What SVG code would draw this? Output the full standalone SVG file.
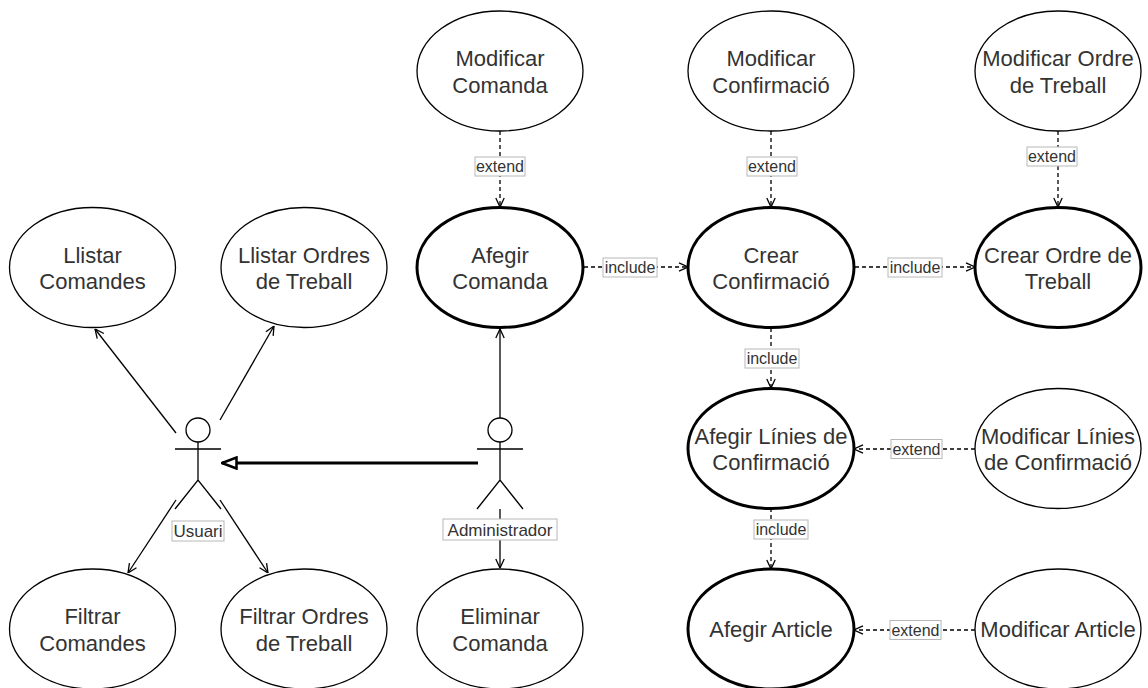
<svg xmlns="http://www.w3.org/2000/svg" width="1148" height="688" viewBox="0 0 1148 688">
<style>
.uc{fill:#fff;stroke:#000;stroke-width:1.3}
.ucb{fill:#fff;stroke:#000;stroke-width:3}
.t{font-family:"Liberation Sans",Arial,sans-serif;font-size:22px;fill:#333;text-anchor:middle}
.lt{font-family:"Liberation Sans",Arial,sans-serif;font-size:16px;fill:#333;text-anchor:middle}
.at{font-family:"Liberation Sans",Arial,sans-serif;font-size:17px;fill:#333;text-anchor:middle}
.lb{fill:#fff;stroke:#b8b8b8;stroke-width:1}
.assoc{fill:none;stroke:#000;stroke-width:1.3;marker-end:url(#open)}
.dep{fill:none;stroke:#000;stroke-width:1.3;stroke-dasharray:4 3;marker-end:url(#open)}
.gen{fill:none;stroke:#000;stroke-width:3;marker-end:url(#tri)}
.actor{fill:none;stroke:#000;stroke-width:1.3}
</style>
<defs>
<marker id="open" viewBox="0 0 10 10" refX="10" refY="5" markerWidth="10" markerHeight="10" markerUnits="userSpaceOnUse" orient="auto">
<path d="M1,0.8 L10,5 L1,9.2" fill="none" stroke="#000" stroke-width="1.3" stroke-dasharray="none"/>
</marker>
<marker id="tri" viewBox="0 0 18 14" refX="16.5" refY="7" markerWidth="18" markerHeight="14" markerUnits="userSpaceOnUse" orient="auto">
<path d="M2,1.5 L16.5,7 L2,12.5 Z" fill="#fff" stroke="#000" stroke-width="2.5"/>
</marker>
</defs>
<rect width="1148" height="688" fill="#fff"/>

<g id="connectors">
<path class="assoc" d="M176,433 L95,329"/>
<path class="assoc" d="M220,420 L274,326"/>
<path class="assoc" d="M176,500 L128,573"/>
<path class="assoc" d="M220,500 L268,573"/>
<path class="assoc" d="M500,418 L500,329"/>
<path class="assoc" d="M500,509 L500,568"/>
<path class="gen" d="M478,463 L222,463"/>
<path class="dep" d="M500,131 L500,207"/>
<path class="dep" d="M771,131 L771,207"/>
<path class="dep" d="M1058,131 L1058,207"/>
<path class="dep" d="M584,267 L688,267"/>
<path class="dep" d="M855,267 L975,267"/>
<path class="dep" d="M771,328 L771,388"/>
<path class="dep" d="M975,449 L854,449"/>
<path class="dep" d="M771,508 L771,569"/>
<path class="dep" d="M975,630 L854,630"/>
<g id="edge-labels">
<rect class="lb" x="475" y="157" width="50" height="19"/><text class="lt" x="500" y="172">extend</text>
<rect class="lb" x="747" y="157" width="50" height="19"/><text class="lt" x="772" y="172">extend</text>
<rect class="lb" x="1027" y="147" width="50" height="19"/><text class="lt" x="1052" y="162">extend</text>
<rect class="lb" x="603" y="258" width="54" height="19"/><text class="lt" x="630" y="273">include</text>
<rect class="lb" x="888" y="258" width="54" height="19"/><text class="lt" x="915" y="273">include</text>
<rect class="lb" x="745" y="349" width="54" height="19"/><text class="lt" x="772" y="364">include</text>
<rect class="lb" x="891" y="439.5" width="51" height="19"/><text class="lt" x="916.5" y="454.5">extend</text>
<rect class="lb" x="754" y="520" width="54" height="19"/><text class="lt" x="781" y="535">include</text>
<rect class="lb" x="890" y="620.5" width="51" height="19"/><text class="lt" x="915.5" y="635.5">extend</text>
</g>
</g>

<g id="actor-usuari">
<circle class="actor" cx="198" cy="430" r="12"/>
<path class="actor" d="M198,442 L198,480 M175,449 L221,449 M175,509 L198,480 L221,509"/>
<rect class="lb" x="172" y="521" width="52" height="20"/>
<text class="at" x="198" y="537">Usuari</text>
</g>
<g id="actor-administrador">
<circle class="actor" cx="500" cy="430" r="12"/>
<path class="actor" d="M500,442 L500,480 M477,449 L523,449 M477,509 L500,480 L523,509"/>
<rect class="lb" x="443" y="519" width="114" height="21"/>
<text class="at" x="500" y="535.5">Administrador</text>
</g>

<g id="uc-modificar-comanda"><ellipse class="uc" cx="500" cy="71" rx="83" ry="60"/><text class="t" x="500" y="66">Modificar</text><text class="t" x="500" y="92.5">Comanda</text></g>
<g id="uc-modificar-confirmacio"><ellipse class="uc" cx="771" cy="71" rx="83" ry="60"/><text class="t" x="771" y="66">Modificar</text><text class="t" x="771" y="92.5">Confirmació</text></g>
<g id="uc-modificar-ordre"><ellipse class="uc" cx="1058" cy="71" rx="83" ry="60"/><text class="t" x="1058" y="66">Modificar Ordre</text><text class="t" x="1058" y="92.5">de Treball</text></g>

<g id="uc-llistar-comandes"><ellipse class="uc" cx="92.5" cy="267.5" rx="83" ry="60"/><text class="t" x="92.5" y="262.5">Llistar</text><text class="t" x="92.5" y="289">Comandes</text></g>
<g id="uc-llistar-ordres"><ellipse class="uc" cx="304" cy="267.5" rx="83" ry="60"/><text class="t" x="304" y="262.5">Llistar Ordres</text><text class="t" x="304" y="289">de Treball</text></g>
<g id="uc-afegir-comanda"><ellipse class="ucb" cx="500" cy="267.5" rx="83" ry="60"/><text class="t" x="500" y="262.5">Afegir</text><text class="t" x="500" y="289">Comanda</text></g>
<g id="uc-crear-confirmacio"><ellipse class="ucb" cx="771" cy="267.5" rx="83" ry="60"/><text class="t" x="771" y="262.5">Crear</text><text class="t" x="771" y="289">Confirmació</text></g>
<g id="uc-crear-ordre"><ellipse class="ucb" cx="1058" cy="267.5" rx="83" ry="60"/><text class="t" x="1058" y="262.5">Crear Ordre de</text><text class="t" x="1058" y="289">Treball</text></g>

<g id="uc-afegir-linies"><ellipse class="ucb" cx="771" cy="448.5" rx="83" ry="60"/><text class="t" x="771" y="443.5">Afegir Línies de</text><text class="t" x="771" y="470">Confirmació</text></g>
<g id="uc-modificar-linies"><ellipse class="uc" cx="1058" cy="448.5" rx="83" ry="60"/><text class="t" x="1058" y="443.5">Modificar Línies</text><text class="t" x="1058" y="470">de Confirmació</text></g>

<g id="uc-filtrar-comandes"><ellipse class="uc" cx="92.5" cy="629" rx="83" ry="60"/><text class="t" x="92.5" y="624">Filtrar</text><text class="t" x="92.5" y="650.5">Comandes</text></g>
<g id="uc-filtrar-ordres"><ellipse class="uc" cx="304" cy="629" rx="83" ry="60"/><text class="t" x="304" y="624">Filtrar Ordres</text><text class="t" x="304" y="650.5">de Treball</text></g>
<g id="uc-eliminar-comanda"><ellipse class="uc" cx="500" cy="629" rx="83" ry="60"/><text class="t" x="500" y="624">Eliminar</text><text class="t" x="500" y="650.5">Comanda</text></g>
<g id="uc-afegir-article"><ellipse class="ucb" cx="771" cy="629" rx="83" ry="60"/><text class="t" x="771" y="637">Afegir Article</text></g>
<g id="uc-modificar-article"><ellipse class="uc" cx="1058" cy="629" rx="83" ry="60"/><text class="t" x="1058" y="637">Modificar Article</text></g>
</svg>
